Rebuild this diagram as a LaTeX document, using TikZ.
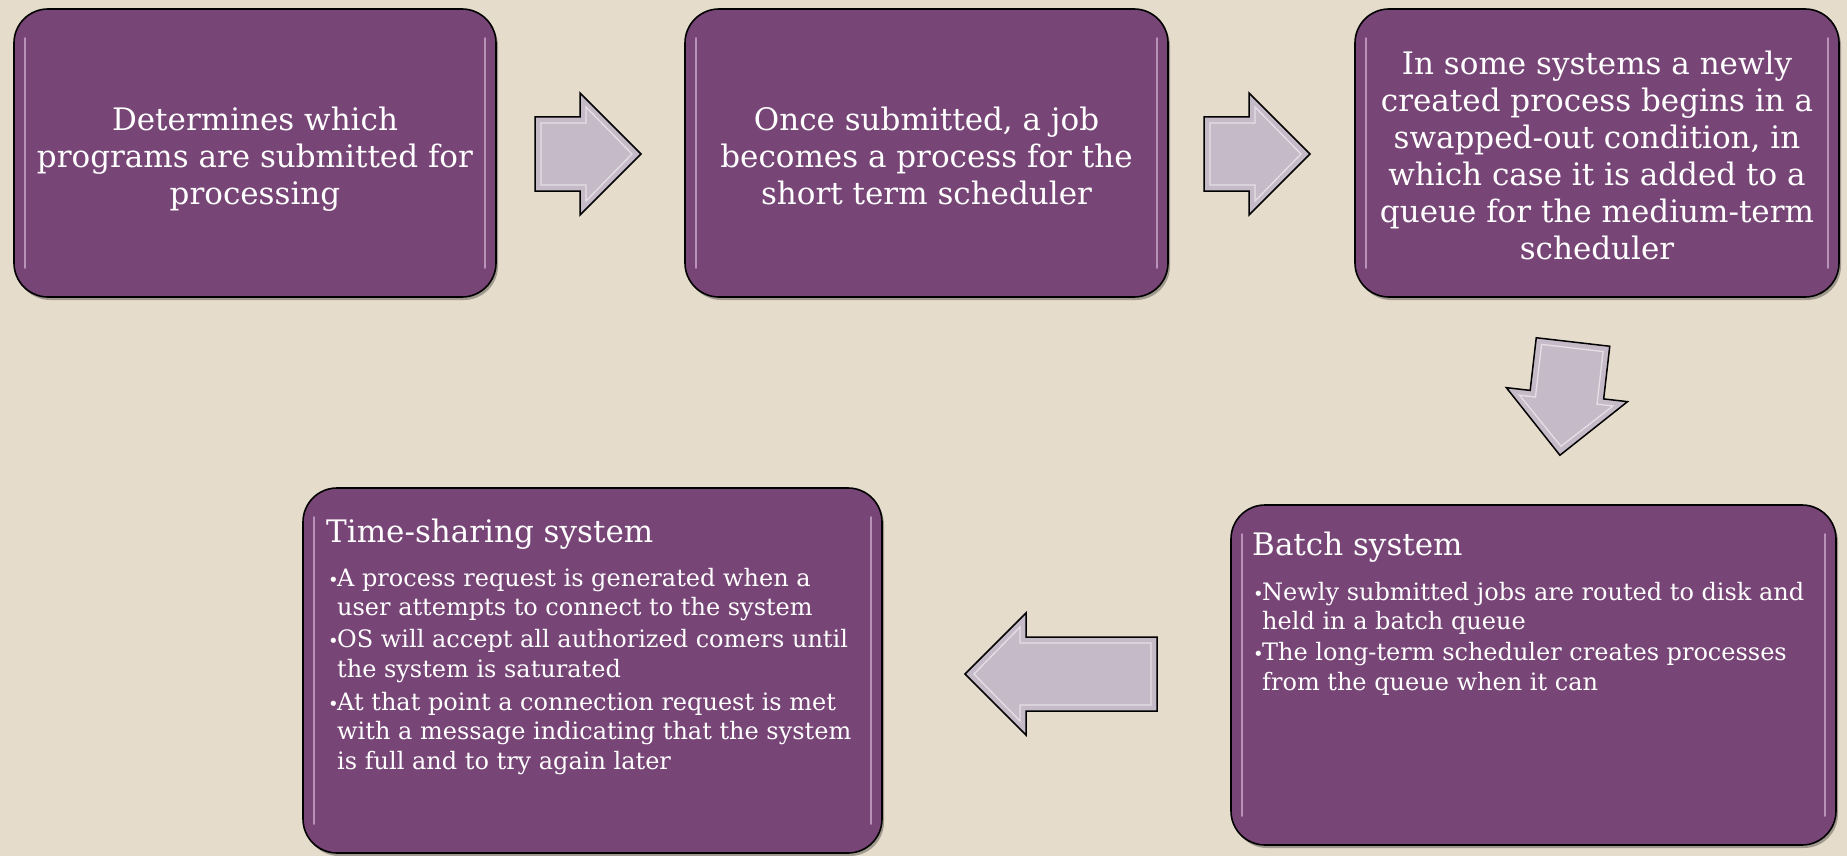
\documentclass[tikz,border=0pt]{standalone}
\usepackage{fontspec}
\setmainfont{DejaVu Serif}
\usetikzlibrary{shadows}
\definecolor{bgcol}{HTML}{E5DCCC}
\definecolor{boxpurple}{HTML}{784577}
\definecolor{arrowfill}{HTML}{C5BAC8}
\definecolor{hilite}{HTML}{DCBCDA}
\newcommand{\mybullet}{\makebox[9pt][l]{\fontsize{18}{18}\selectfont\textbullet}}
\newcommand{\myindent}{\hspace*{9pt}}
\newcommand{\tstrut}{\rule[-9pt]{0pt}{31pt}}
\tikzset{
  pbox/.style={draw=black, line width=1.6pt, fill=boxpurple, rounded corners=34pt,
    inner sep=0pt, drop shadow={shadow xshift=2pt, shadow yshift=-3pt, opacity=0.3, fill=black}},
  bigtext/.style={text=white, font=\fontsize{31}{37}\selectfont, align=center, inner sep=0pt},
  titletext/.style={text=white, font=\fontsize{31}{36}\selectfont, anchor=north west, inner sep=0pt, align=left},
  bultext/.style={text=white, font=\fontsize{24}{29.5}\selectfont, anchor=north west, inner sep=0pt, align=left},
  hl/.style={draw=hilite, line width=2.5pt, opacity=0.65, line cap=round},
  blockarrow/.style={fill=arrowfill, draw=black, line width=1.5pt, line join=miter},
  bevel/.style={draw=white, line width=1.3pt, opacity=0.55, line join=miter}
}
\begin{document}
\begin{tikzpicture}[x=1pt, y=-1pt]
\useasboundingbox (0,0) rectangle (1847,856);
\fill[bgcol] (0,0) rectangle (1847,856);

% top row boxes
\node[pbox, minimum width=482pt, minimum height=288pt] (b1) at (255,153) {};
\node[pbox, minimum width=483pt, minimum height=288pt] (b2) at (926.5,153) {};
\node[pbox, minimum width=484pt, minimum height=288pt] (b3) at (1597,153) {};

% bottom row boxes
\node[pbox, minimum width=605pt, minimum height=340pt] (b5) at (1533.5,675) {};
\node[pbox, minimum width=579pt, minimum height=365pt] (b4) at (592.5,670.5) {};

% highlights
\foreach \b in {b1,b2,b3,b4,b5}{
  \draw[hl] ([xshift=12pt,yshift=-30pt]\b.north west) -- ([xshift=12pt,yshift=30pt]\b.south west);
  \draw[hl] ([xshift=-12pt,yshift=-30pt]\b.north east) -- ([xshift=-12pt,yshift=30pt]\b.south east);
}

% top texts
\node[bigtext] (b1t) at ([yshift=-7pt]b1.center)
  {\tstrut Determines which\\\tstrut programs are submitted for\\\tstrut processing};
\node[bigtext] (b2t) at ([yshift=-7pt]b2.center)
  {\tstrut Once submitted, a job\\\tstrut becomes a process for the\\\tstrut short term scheduler};
\node[bigtext] (b3t) at ([yshift=-7pt]b3.center)
  {\tstrut In some systems a newly\\\tstrut created process begins in a\\\tstrut swapped-out condition, in\\\tstrut which case it is added to a\\\tstrut queue for the medium-term\\\tstrut scheduler};

% bottom texts
\node[titletext] (t4) at (326,511) {\rule{0pt}{31pt}Time-sharing system};
\node[bultext] (t4a) at (328,562) {\rule{0pt}{24pt}\mybullet A process request is generated when a\\\myindent user attempts to connect to the system};
\node[bultext] (t4b) at (328,623.5) {\rule{0pt}{24pt}\mybullet OS will accept all authorized comers until\\\myindent the system is saturated};
\node[bultext] (t4c) at (328,686) {\rule{0pt}{24pt}\mybullet At that point a connection request is met\\\myindent with a message indicating that the system\\\myindent is full and to try again later};

\node[titletext] (t5) at (1252,524) {\rule{0pt}{31pt}Batch system};
\node[bultext] (t5a) at (1253,576) {\rule{0pt}{24pt}\mybullet Newly submitted jobs are routed to disk and\\\myindent held in a batch queue};
\node[bultext] (t5b) at (1253,636.5) {\rule{0pt}{24pt}\mybullet The long-term scheduler creates processes\\\myindent from the queue when it can};

% block arrows
\foreach \sx/\sy/\rot/\L/\h in {535/154/0/106/45, 1204/154/0/106/45, 1573/342/-96.6/114/53, 1157/674/180/192/131}{
  \begin{scope}[shift={(\sx,\sy)}, rotate=\rot]
    \draw[blockarrow] (0,-37) -- (\h,-37) -- (\h,-61) -- (\L,0) -- (\h,61) -- (\h,37) -- (0,37) -- cycle;
    \draw[bevel] (6,-31) -- (\h+6,-31) -- (\h+6,-47) -- (\L-9,0) -- (\h+6,47) -- (\h+6,31) -- (6,31) -- cycle;
  \end{scope}
}
\end{tikzpicture}
\end{document}
